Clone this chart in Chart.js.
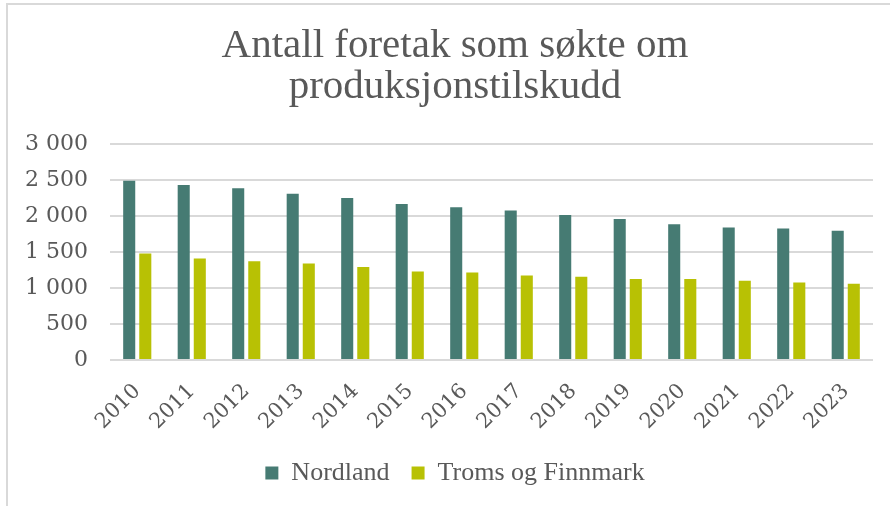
<!DOCTYPE html>
<html>
<head>
<meta charset="utf-8">
<script src="https://cdn.jsdelivr.net/npm/chart.js@4.4.1/dist/chart.umd.min.js"></script>
<style>
  html, body { margin: 0; padding: 0; background: #fff; overflow: hidden; }
  #wrap { position: relative; width: 890px; height: 506px; }
  #frame { position: absolute; left: 6px; top: 3px; width: 1000px; height: 1000px;
           border: 2px solid #d9d9d9; box-sizing: border-box; }
  #chart { position: absolute; left: 0; top: 0; }
</style>
</head>
<body>
<div id="wrap">
  <div id="frame"></div>
  <canvas id="chart" width="890" height="506"></canvas>
</div>
<script>
const years = ["2010", "2011", "2012", "2013", "2014", "2015", "2016",
               "2017", "2018", "2019", "2020", "2021", "2022", "2023"];
const nordland = [2490, 2430, 2385, 2310, 2250, 2165, 2120,
                  2075, 2015, 1960, 1885, 1840, 1825, 1795];
const tromsFinnmark = [1480, 1410, 1370, 1340, 1290, 1230, 1215,
                       1175, 1155, 1125, 1125, 1100, 1075, 1060];
const titleLines = ["Antall foretak som søkte om", "produksjonstilskudd"];

const textColor = "#595959";
const gridColor = "#d9d9d9";

function thousands(v) {
  return String(v).replace(/\B(?=(\d{3})+(?!\d))/g, " ");
}

const ctx = document.getElementById("chart").getContext("2d");

new Chart(ctx, {
  type: "bar",
  data: {
    labels: years,
    datasets: [
      {
        label: "Nordland",
        data: nordland,
        backgroundColor: "#467b73",
        categoryPercentage: 0.59,
        barPercentage: 0.75
      },
      {
        label: "Troms og Finnmark",
        data: tromsFinnmark,
        backgroundColor: "#b8c104",
        categoryPercentage: 0.59,
        barPercentage: 0.75
      }
    ]
  },
  options: {
    responsive: false,
    animation: false,
    layout: { padding: { left: 20, right: 0, top: 0, bottom: 10 } },
    plugins: {
      title: {
        display: true,
        text: titleLines,
        color: textColor,
        font: { family: "Liberation Serif", size: 41, weight: "normal", lineHeight: 1.0 },
        padding: { top: 26, bottom: 36 }
      },
      legend: {
        position: "bottom",
        labels: {
          color: textColor,
          font: { family: "Liberation Serif", size: 26 },
          boxWidth: 13,
          boxHeight: 13,
          padding: 22
        }
      },
      tooltip: { enabled: false }
    },
    scales: {
      x: {
        // labels overhang the box a little so the legend can sit closer
        afterFit: (scale) => { scale.height = 78; },
        grid: { display: false, drawTicks: false },
        border: { display: false },
        ticks: {
          color: textColor,
          font: { family: "DejaVu Serif", size: 21 },
          minRotation: 45,
          maxRotation: 45,
          padding: 19
        }
      },
      y: {
        min: 0,
        max: 3000,
        afterFit: (scale) => { scale.width = 90; },
        grid: { color: gridColor, lineWidth: 2, drawTicks: false },
        border: { display: false },
        ticks: {
          stepSize: 500,
          color: textColor,
          font: { family: "DejaVu Serif", size: 22 },
          padding: 22,
          callback: (v) => thousands(v)
        }
      },
      // empty right-hand axis, only keeps the plot off the right edge
      yRight: {
        position: "right",
        grid: { display: false, drawTicks: false },
        border: { display: false },
        ticks: { display: false },
        afterFit: (scale) => { scale.width = 17; }
      }
    }
  }
});
</script>
</body>
</html>
